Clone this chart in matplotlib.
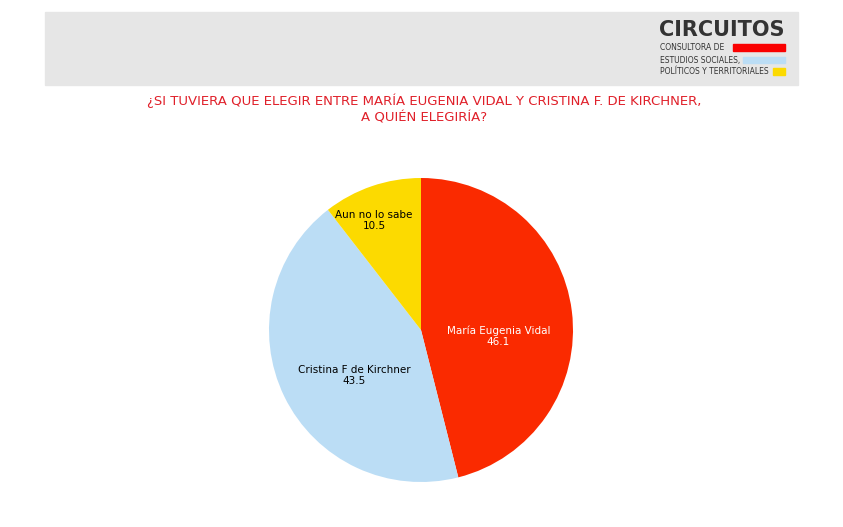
import matplotlib
matplotlib.use("Agg")
import matplotlib.pyplot as plt
from matplotlib.patches import Rectangle

labels = ["María Eugenia Vidal", "Cristina F de Kirchner", "Aun no lo sabe"]
values = [46.1, 43.5, 10.5]
colors = ["#FA2A00", "#BBDDF5", "#FCDA00"]
title = "¿SI TUVIERA QUE ELEGIR ENTRE MARÍA EUGENIA VIDAL Y CRISTINA F. DE KIRCHNER,\nA QUIÉN ELEGIRÍA?"

W, H = 843, 527
fig = plt.figure(figsize=(W/100, H/100), dpi=100)
bg = fig.add_axes([0, 0, 1, 1]); bg.set_xlim(0, W); bg.set_ylim(H, 0); bg.axis("off")
bg.add_patch(Rectangle((45, 12), 753, 73, color="#E6E6E6"))
bg.text(722, 30, "CIRCUITOS", ha="center", va="center", fontsize=15, fontweight="bold", color="#333333")
bg.text(660, 48, "CONSULTORA DE", fontsize=5.5, va="center", color="#333333")
bg.add_patch(Rectangle((733, 44), 52, 7, color="#FA0000"))
bg.text(660, 60, "ESTUDIOS SOCIALES,", fontsize=5.5, va="center", color="#333333")
bg.add_patch(Rectangle((743, 57), 42, 6, color="#BBDDF5"))
bg.text(660, 72, "POLÍTICOS Y TERRITORIALES", fontsize=5.5, va="center", color="#333333")
bg.add_patch(Rectangle((773, 68), 12, 7, color="#FCDA00"))
bg.text(424, 109, title, ha="center", va="center", fontsize=9.5, color="#E0202A", linespacing=1.3)

cx, cy, r = 421, 330, 152
ax = fig.add_axes([(cx-r)/W, 1-(cy+r)/H, 2*r/W, 2*r/H])
wedges, _ = ax.pie(values, colors=colors, startangle=90, counterclock=False,
                   wedgeprops=dict(linewidth=0), frame=False)
ax.set_aspect("auto"); ax.set_xlim(-1, 1); ax.set_ylim(-1, 1); ax.axis("off")
pos = [(0.51, -0.04), (-0.44, -0.3), (-0.31, 0.72)]
tc = ["white", "black", "black"]
for (x, y), l, v, c in zip(pos, labels, values, tc):
    ax.text(x, y, f"{l}\n{v}", ha="center", va="center", fontsize=7.5, color=c)
fig.savefig("out.png", dpi=100)
